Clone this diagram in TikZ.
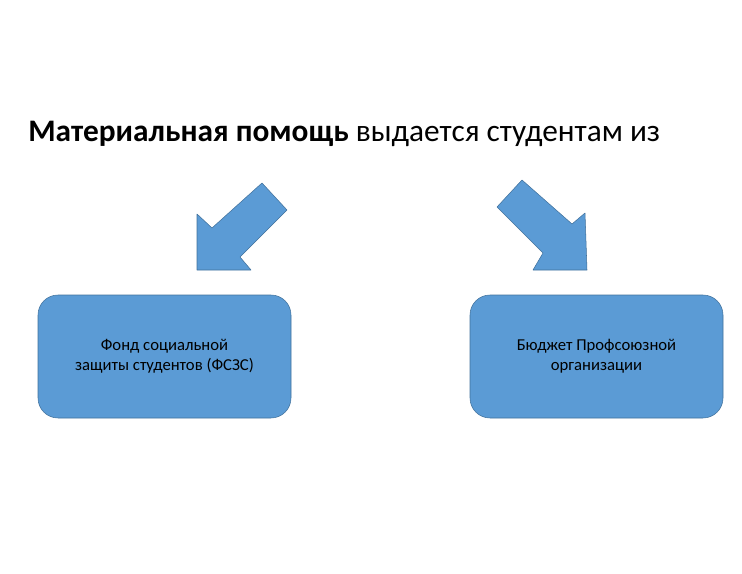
\documentclass[tikz,border=0pt]{standalone}
\usepackage{fontspec}
\setmainfont{Carlito}
\usetikzlibrary{positioning}
\definecolor{boxblue}{HTML}{5B9BD5}
\definecolor{boxline}{HTML}{41719C}
\begin{document}
\begin{tikzpicture}[x=0.75pt,y=-0.75pt,
    fund/.style={draw=boxline,fill=boxblue,rounded corners=15pt,minimum width=253*0.75pt,
      minimum height=123*0.75pt,align=center,font=\fontsize{12.5}{15}\selectfont},
    blockarrow/.style={draw=boxline,fill=boxblue,line join=round}]
  \useasboundingbox (0,0) rectangle (742,574);
  \node (title) [anchor=base west,inner sep=0pt,font=\fontsize{23.5}{28}\selectfont] at (28,142)
    {\textbf{Материальная помощь} выдается студентам из};
  \node (fssz) [fund] at (164.5,356.5) {Фонд социальной\\защиты студентов (ФСЗС)};
  \node (budget) [fund] at (596.5,356.5) {Бюджет Профсоюзной\\организации};
  % left arrow
  \draw[blockarrow] (262,183) -- (287,210) -- (240,257) -- (251,270) -- (197,270)
    -- (197,214) -- (212,228) -- cycle;
  % right arrow
  \draw[blockarrow] (522,180) -- (497,207) -- (543,253) -- (533,270) -- (587,270)
    -- (585,213) -- (572,224) -- cycle;
\end{tikzpicture}
\end{document}
